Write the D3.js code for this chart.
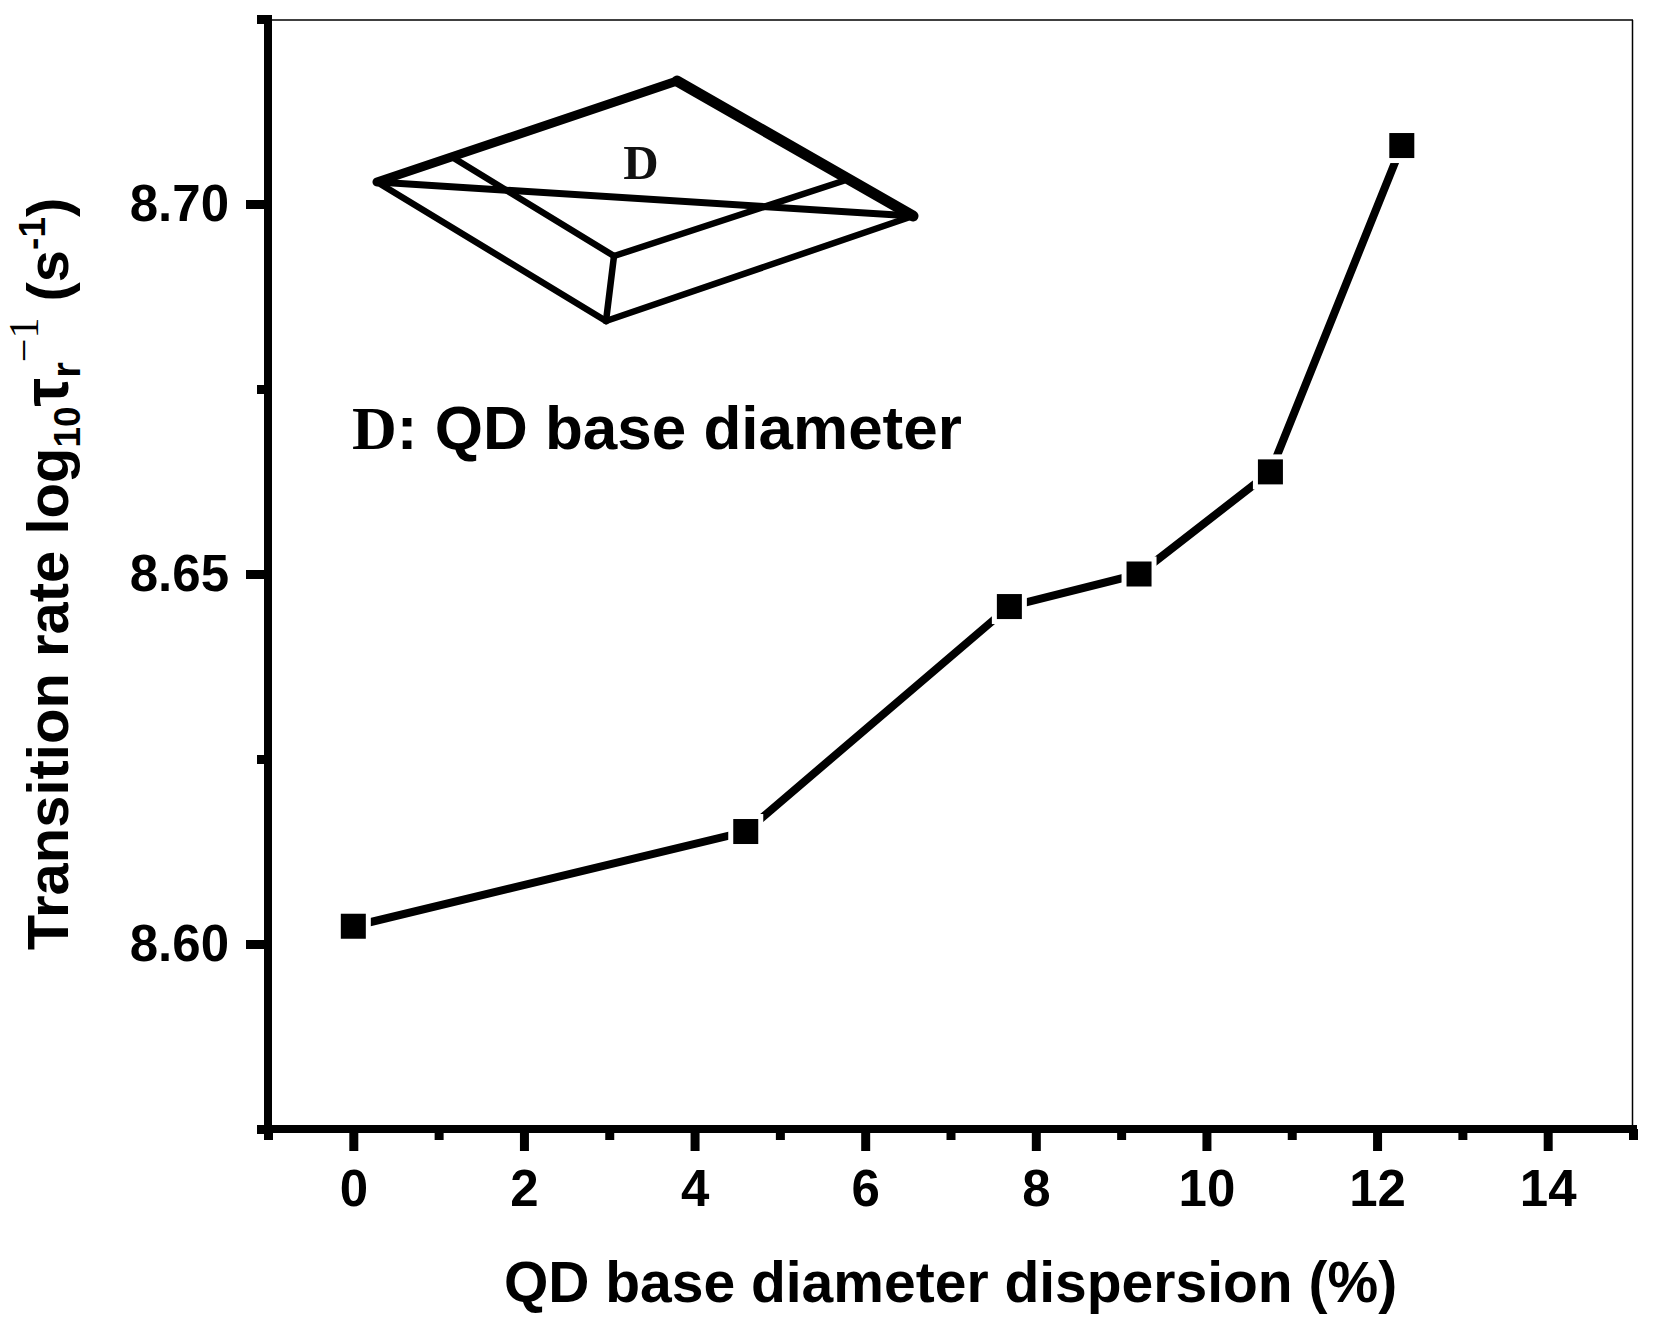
<!DOCTYPE html>
<html><head><meta charset="utf-8">
<script src="https://cdn.jsdelivr.net/npm/d3@7/dist/d3.min.js"></script>
<style>body{margin:0;background:#fff}</style>
</head><body>
<script>
// ---- data ----
const xValues = [0, 4.60, 7.69, 9.21, 10.75, 12.29];
const yValues = [8.6024, 8.6152, 8.6456, 8.6500, 8.6638, 8.7079];
const xMajorTicks = [0, 2, 4, 6, 8, 10, 12, 14];
const xMinorTicks = [-1, 1, 3, 5, 7, 9, 11, 13, 15];
const yMajorTicks = [8.60, 8.65, 8.70];
const yMinorTicks = [8.575, 8.625, 8.675, 8.725];
const xTitle = "QD base diameter dispersion (%)";
const insetSymbol = "D";
const insetText = ": QD base diameter";

// ---- layout ----
const W = 1660, H = 1331;
const L = 268, R = 1633, T = 19, B = 1129;
const svg = d3.select("body").append("svg").attr("width", W).attr("height", H);
const x = d3.scaleLinear().domain([-1, 15]).range([L, R]);
const y = d3.scaleLinear().domain([8.575, 8.725]).range([B, T]);
const SANS = "'Liberation Sans', Arial, sans-serif";
const SERIF = "'Liberation Serif', 'Times New Roman', serif";

// thin frame (top / right)
svg.append("line").attr("x1", L).attr("x2", R).attr("y1", 20).attr("y2", 20)
  .attr("stroke", "#000").attr("stroke-width", 1.5);
svg.append("line").attr("x1", R - 0.5).attr("x2", R - 0.5).attr("y1", 20).attr("y2", B)
  .attr("stroke", "#000").attr("stroke-width", 1.5);

function styleAxis(g, w) {
  g.select(".domain").remove();
  g.selectAll(".tick line").attr("stroke", "#000").attr("stroke-width", w);
  g.selectAll(".tick text").attr("fill", "#000").attr("font-family", SANS)
    .attr("font-weight", "bold").attr("font-size", 51);
}

// x axis
const gxMinor = svg.append("g").attr("transform", `translate(0,${B})`)
  .call(d3.axisBottom(x).tickValues(xMinorTicks).tickSize(11).tickFormat(""));
styleAxis(gxMinor, 9);
const gx = svg.append("g").attr("transform", `translate(0,${B})`)
  .call(d3.axisBottom(x).tickValues(xMajorTicks).tickSize(22).tickPadding(19).tickFormat(d3.format("d")));
styleAxis(gx, 9);

// y axis
const gyMinor = svg.append("g").attr("transform", `translate(${L},0)`)
  .call(d3.axisLeft(y).tickValues(yMinorTicks).tickSize(11).tickFormat(""));
styleAxis(gyMinor, 9);
const gy = svg.append("g").attr("transform", `translate(${L},0)`)
  .call(d3.axisLeft(y).tickValues(yMajorTicks).tickSize(22).tickPadding(17).tickFormat(d3.format(".2f")));
styleAxis(gy, 9);

// thick axis lines
svg.append("line").attr("x1", L - 4).attr("x2", R + 4).attr("y1", B).attr("y2", B)
  .attr("stroke", "#000").attr("stroke-width", 8);
svg.append("line").attr("x1", L).attr("x2", L).attr("y1", T - 4).attr("y2", B + 4)
  .attr("stroke", "#000").attr("stroke-width", 8);

// data line + markers
const pts = xValues.map((v, i) => [v, yValues[i]]);
svg.append("path").datum(pts)
  .attr("d", d3.line().x(d => x(d[0])).y(d => y(d[1])))
  .attr("fill", "none").attr("stroke", "#000").attr("stroke-width", 8);
const MS = 25, GAP = 5;
svg.selectAll("rect.halo").data(pts).join("rect").attr("class", "halo")
  .attr("x", d => x(d[0]) - MS / 2 - GAP).attr("y", d => y(d[1]) - MS / 2 - GAP)
  .attr("width", MS + 2 * GAP).attr("height", MS + 2 * GAP).attr("fill", "#fff");
svg.selectAll("rect.mk").data(pts).join("rect").attr("class", "mk")
  .attr("x", d => x(d[0]) - MS / 2).attr("y", d => y(d[1]) - MS / 2)
  .attr("width", MS).attr("height", MS).attr("fill", "#000");

// x title
svg.append("text").attr("x", (L + R) / 2).attr("y", 1302).attr("text-anchor", "middle")
  .attr("font-family", SANS).attr("font-weight", "bold").attr("font-size", 57).attr("fill", "#000")
  .text(xTitle);

// y title
const yt = svg.append("text").attr("transform", `translate(68,${(T + B) / 2}) rotate(-90)`)
  .attr("text-anchor", "middle").attr("font-family", SANS).attr("font-weight", "bold")
  .attr("font-size", 58).attr("fill", "#000");
yt.append("tspan").text("Transition rate log");
yt.append("tspan").attr("font-size", 37).attr("dy", 12).text("10");
yt.append("tspan").attr("font-size", 64).attr("dy", -12).text("τ");
yt.append("tspan").attr("font-size", 40).attr("dy", 12).text("r");
yt.append("tspan").attr("font-family", SERIF).attr("font-weight", "normal").attr("font-size", 42).attr("dy", -42).text("−1");
yt.append("tspan").attr("font-size", 58).attr("dy", 30).text(" (s");
yt.append("tspan").attr("font-size", 37).attr("dy", -23).text("-1");
yt.append("tspan").attr("font-size", 58).attr("dy", 23).text(")");

// inset illustration (decorative pyramid sketch, pixel coordinates)
const insL = [377, 182], insT = [677, 81], insR = [913, 216], insB = [606, 321];
const insP1 = [452, 157], insI = [614, 256], insP2 = [843, 181];
const insetEdges = [
  [insL, insT, 9], [insT, insR, 11], [insL, insB, 6.5], [insB, insR, 6.5],
  [insP1, insI, 6.5], [insI, insP2, 6.5], [insI, insB, 6.5], [insL, insR, 7]
];
svg.append("g").selectAll("line").data(insetEdges).join("line")
  .attr("x1", d => d[0][0]).attr("y1", d => d[0][1])
  .attr("x2", d => d[1][0]).attr("y2", d => d[1][1])
  .attr("stroke", "#000").attr("stroke-width", d => d[2]).attr("stroke-linecap", "round");
svg.append("text").attr("x", 641).attr("y", 179).attr("text-anchor", "middle")
  .attr("font-family", SERIF).attr("font-weight", "bold").attr("font-size", 49).attr("fill", "#111")
  .text(insetSymbol);

// inset caption
const cap = svg.append("text").attr("x", 352).attr("y", 449).attr("font-size", 62)
  .attr("font-weight", "bold").attr("fill", "#000");
cap.append("tspan").attr("font-family", SERIF).text(insetSymbol);
cap.append("tspan").attr("font-family", SANS).text(insetText);
</script>
</body></html>
